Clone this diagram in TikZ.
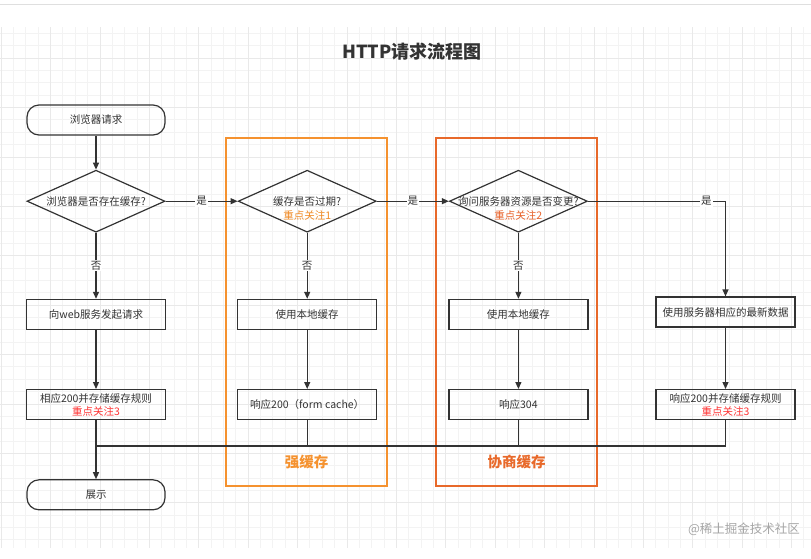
\documentclass[tikz,border=0pt]{standalone}
\usepackage{fontspec}
\setmainfont{Noto Sans CJK SC}
\usetikzlibrary{shapes, positioning, arrows.meta, calc}
\definecolor{ink}{HTML}{333333}
\definecolor{strongc}{HTML}{F5922F}
\definecolor{negoc}{HTML}{E8692A}
\definecolor{note1}{HTML}{F08A24}
\definecolor{note2}{HTML}{E8622A}
\definecolor{note3}{HTML}{FF3333}
\definecolor{gridminor}{HTML}{F3F3F3}
\definecolor{gridmajor}{HTML}{E9E9E9}
\tikzset{
  term/.style={
    rectangle,
    rounded corners=12pt,
    draw=ink, line width=1.2pt,
    minimum width=138pt,
    minimum height=30pt,
    text=ink,
    font=\fontsize{10.5}{13}\selectfont
  },
  proc/.style={
    rectangle,
    draw=ink, line width=1.2pt,
    minimum width=139pt,
    minimum height=30pt,
    inner sep=2pt,
    align=center,
    text=ink,
    font=\fontsize{10.5}{13}\selectfont
  },
  decide/.style={
    diamond,
    draw=ink, line width=1.2pt,
    minimum width=138pt,
    minimum height=62pt,
    inner sep=0pt
  },
  dtext/.style={
    align=center,
    text=ink,
    font=\fontsize{10.5}{14}\selectfont
  },
  group/.style={
    rectangle,
    line width=1.5pt,
    minimum width=161pt,
    minimum height=348pt
  },
  grouptxt/.style={
    font=\fontsize{14.5}{16}\selectfont\bfseries
  },
  arrow/.style={
    draw=ink,
    line width=1.2pt,
    -{Triangle[length=7pt,width=6pt]}
  },
  line/.style={
    draw=ink,
    line width=1.2pt
  },
  lbl/.style={
    fill=white,
    inner sep=1pt,
    text=ink,
    font=\fontsize{10.5}{12}\selectfont
  }
}

\begin{document}
\begin{tikzpicture}[x=1pt, y=-1pt]
% page and grid
\useasboundingbox[fill=white] (0,0) rectangle (811,558);
\draw[gray!25, line width=0.6pt] (0,4) -- (811,4);
\foreach \k in {0,...,65}
  \draw[gridminor, line width=0.6pt] ({1+12.35*\k},27) -- ({1+12.35*\k},548);
\foreach \k in {0,...,41}
  \draw[gridminor, line width=0.6pt] (0,{33.3+12.35*\k}) -- (811,{33.3+12.35*\k});
\foreach \k in {0,4,...,64}
  \draw[gridmajor, line width=0.6pt] ({1+12.35*\k},27) -- ({1+12.35*\k},548);
\foreach \k in {2,6,...,41}
  \draw[gridmajor, line width=0.6pt] (0,{33.3+12.35*\k}) -- (811,{33.3+12.35*\k});

% title
\node[text=ink, font=\fontsize{18}{20}\selectfont\bfseries] (head) at (412,52) {HTTP请求流程图};

% cache groups
\node[group, draw=strongc] (strong) at (306.5,312) {};
\node[grouptxt, text=strongc] (strongtxt) at ([yshift=25pt]strong.south) {强缓存};
\node[group, draw=negoc] (nego) at (516.5,312) {};
\node[grouptxt, text=negoc] (negotxt) at ([yshift=25pt]nego.south) {协商缓存};

% nodes
\node[term] (start) at (96,120) {浏览器请求};

\node[decide, below=34pt of start,
  label={[dtext]center:浏览器是否存在缓存?}] (cache) {};

\node[proc, below=66pt of cache] (ask) {向web服务发起请求};

\node[proc, below=59pt of ask] (store)
{ 相应200并存储缓存规则\\
  \textcolor{note3}{重点关注3}
};

\node[term, below=59pt of store] (show) {展示};

\node[decide, right=72pt of cache,
  label={[dtext, yshift=-7pt]center:缓存是否过期?\\\textcolor{note1}{重点关注1}}] (expired) {};

\node[decide, right=72pt of expired,
  label={[dtext, yshift=-7pt]center:询问服务器资源是否变更?\\\textcolor{note2}{重点关注2}}] (changed) {};

\node[proc] (local1) at (expired |- ask) {使用本地缓存};
\node[proc] (resp200) at (expired |- store) {响应200（form cache）};

\node[proc] (local2) at (changed |- ask) {使用本地缓存};
\node[proc] (resp304) at (changed |- store) {响应304};

\node[proc] (fresh) at (725.5,312) {使用服务器相应的最新数据};
\node[proc] (store2) at (fresh |- store)
{ 响应200并存储缓存规则\\
  \textcolor{note3}{重点关注3}
};

% watermark
\node[text=gray!70, font=\fontsize{12.5}{14}\selectfont] (wm) at (744,529) {@稀土掘金技术社区};

% edges

%% left column
\draw [arrow] (start) -- (cache);
\draw [arrow] (cache) -- node[lbl]{否} (ask);
\draw [arrow] (ask) -- (store);
\draw [arrow] (store) -- (show);

%% yes branch
\draw [arrow] (cache) -- node[lbl]{是} (expired);
\draw [arrow] (expired) -- node[lbl]{否} (local1);
\draw [arrow] (local1) -- (resp200);
\draw [arrow] (expired) -- node[lbl]{是} (changed);
\draw [arrow] (changed) -- node[lbl]{否} (local2);
\draw [arrow] (local2) -- (resp304);
\draw [arrow] (changed) -| node[lbl, pos=0.43]{是} (fresh);
\draw [arrow] (fresh) -- (store2);

%% merge
\coordinate (merge) at (store.south |- 0,446);
\draw [line] (store2) |- (merge);
\draw [line] (resp200) -- (resp200 |- merge);
\draw [line] (resp304) -- (resp304 |- merge);

\end{tikzpicture}
\end{document}
